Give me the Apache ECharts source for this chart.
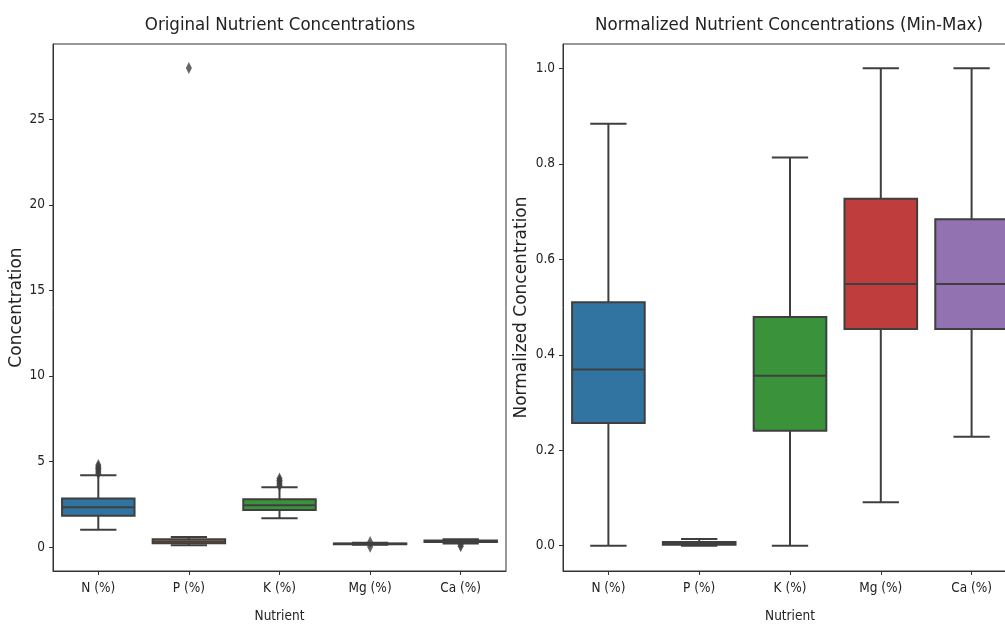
<!DOCTYPE html>
<html>
<head>
<meta charset="utf-8">
<script src="https://cdn.jsdelivr.net/npm/echarts@6/dist/echarts.min.js"></script>
<style>html,body{margin:0;padding:0;background:#fff;}#c{width:1005px;height:624px;}</style>
</head>
<body>
<div id="c"></div>
<script>
const categories = ['N (%)', 'P (%)', 'K (%)', 'Mg (%)', 'Ca (%)'];
// [min whisker, Q1, median, Q3, max whisker]
const origN = [1.01, 1.83, 2.32, 2.84, 4.20];
const origP = [0.10, 0.22, 0.33, 0.45, 0.58];
const origK = [1.68, 2.16, 2.44, 2.79, 3.50];
const origMg = [0.14, 0.17, 0.19, 0.21, 0.25];
const origCa = [0.20, 0.30, 0.35, 0.38, 0.45];
const origFliersN = [4.3, 4.4, 4.5, 4.6, 4.7, 4.8];
const origFliersP = [28.0];
const origFliersK = [3.6, 3.7, 3.8, 3.9, 4.0];
const origFliersMg = [0.02, 0.3];
const origFliersCa = [0.05, 0.15];
const normN = [0.000, 0.257, 0.369, 0.510, 0.884];
const normP = [0.000, 0.002, 0.005, 0.008, 0.014];
const normK = [0.000, 0.241, 0.356, 0.479, 0.813];
const normMg = [0.091, 0.454, 0.548, 0.727, 1.000];
const normCa = [0.228, 0.454, 0.548, 0.684, 1.000];
const leftTicks = [0, 5, 10, 15, 20, 25];
const rightTicks = [0, 0.2, 0.4, 0.6, 0.8, 1.0];

const colors = ['#3274a1', '#e1812c', '#3a923a', '#c03d3e', '#9372b2'];
const lineColor = '#3f3f3f';
const narrowFont = '"DejaVu Sans Condensed", "DejaVu Sans", sans-serif';
const wideFont = '"DejaVu Sans", sans-serif';

const origStats = [origN, origP, origK, origMg, origCa];
const normStats = [normN, normP, normK, normMg, normCa];
const origFliers = [origFliersN, origFliersP, origFliersK, origFliersMg, origFliersCa];

function boxData(stats) { return stats.map((s, i) => [i].concat(s)); }
function flierData(fl) {
  const out = [];
  fl.forEach((arr, i) => arr.forEach(v => out.push([i, v])));
  return out;
}

function renderBox(params, api) {
  const x = api.value(0);
  const lo = api.coord([x, api.value(1)]);
  const q1 = api.coord([x, api.value(2)]);
  const md = api.coord([x, api.value(3)]);
  const q3 = api.coord([x, api.value(4)]);
  const hi = api.coord([x, api.value(5)]);
  const band = api.size([1, 0])[0];
  const w = band * 0.8, cw = w / 2, cx = lo[0];
  const ls = { stroke: lineColor, lineWidth: 2 };
  return {
    type: 'group',
    children: [
      { type: 'line', shape: { x1: cx, y1: q3[1], x2: cx, y2: hi[1] }, style: ls },
      { type: 'line', shape: { x1: cx, y1: q1[1], x2: cx, y2: lo[1] }, style: ls },
      { type: 'line', shape: { x1: cx - cw / 2, y1: hi[1], x2: cx + cw / 2, y2: hi[1] }, style: ls },
      { type: 'line', shape: { x1: cx - cw / 2, y1: lo[1], x2: cx + cw / 2, y2: lo[1] }, style: ls },
      { type: 'rect', shape: { x: cx - w / 2, y: q3[1], width: w, height: q1[1] - q3[1] },
        style: { fill: colors[x], stroke: lineColor, lineWidth: 2 } },
      { type: 'line', shape: { x1: cx - w / 2, y1: md[1], x2: cx + w / 2, y2: md[1] }, style: ls }
    ]
  };
}

function xAxisOpt(gi) {
  return {
    type: 'category', gridIndex: gi, data: categories,
    name: 'Nutrient', nameLocation: 'middle', nameGap: 38,
    nameTextStyle: { fontFamily: narrowFont, fontSize: 13.5, color: '#222' },
    axisLine: { show: true, onZero: false, lineStyle: { color: '#333', width: 1 } },
    axisTick: { show: true, alignWithLabel: true, length: 4, lineStyle: { color: '#333' } },
    axisLabel: { fontFamily: narrowFont, fontSize: 13.5, color: '#222', margin: 10 },
    splitLine: { show: false }
  };
}
function yAxisOpt(gi, min, max, ticks, name, gap, fmt) {
  return {
    type: 'value', gridIndex: gi, min: min, max: max,
    name: name, nameLocation: 'middle', nameGap: gap,
    nameTextStyle: { fontFamily: wideFont, fontSize: 17, color: '#222' },
    axisLine: { show: true, onZero: false, lineStyle: { color: '#333', width: 1 } },
    axisTick: { show: true, length: 4, customValues: ticks, lineStyle: { color: '#333' } },
    axisLabel: { fontFamily: narrowFont, fontSize: 13.5, color: '#222', margin: 8, customValues: ticks, formatter: fmt },
    splitLine: { show: false }
  };
}

const chart = echarts.init(document.getElementById('c'), null, { renderer: 'canvas' });
chart.setOption({
  animation: false,
  backgroundColor: '#fff',
  title: [
    { text: 'Original Nutrient Concentrations', left: 275, top: 11, textAlign: 'center',
      textStyle: { fontFamily: narrowFont, fontSize: 18.5, fontWeight: 'normal', color: '#222' } },
    { text: 'Normalized Nutrient Concentrations (Min-Max)', left: 784, top: 11, textAlign: 'center',
      textStyle: { fontFamily: narrowFont, fontSize: 18.5, fontWeight: 'normal', color: '#222' } }
  ],
  grid: [
    { left: 53, top: 44, width: 453, height: 527, outerBoundsMode: 'none', containLabel: false,
      show: true, borderColor: '#333', borderWidth: 1, backgroundColor: 'transparent' },
    { left: 563, top: 44, width: 454, height: 527, outerBoundsMode: 'none', containLabel: false,
      show: true, borderColor: '#333', borderWidth: 1, backgroundColor: 'transparent' }
  ],
  xAxis: [xAxisOpt(0), xAxisOpt(1)],
  yAxis: [
    yAxisOpt(0, -1.4, 29.4, leftTicks, 'Concentration', 28, v => String(v)),
    yAxisOpt(1, -0.053, 1.051, rightTicks, 'Normalized Concentration', 33, v => v.toFixed(1))
  ],
  series: [
    { type: 'custom', xAxisIndex: 0, yAxisIndex: 0, renderItem: renderBox, data: boxData(origStats),
      encode: { x: 0, y: [1, 2, 3, 4, 5] } },
    { type: 'scatter', xAxisIndex: 0, yAxisIndex: 0, data: flierData(origFliers),
      symbol: 'diamond', symbolSize: [6, 12], itemStyle: { color: lineColor } },
    { type: 'custom', xAxisIndex: 1, yAxisIndex: 1, renderItem: renderBox, data: boxData(normStats),
      encode: { x: 0, y: [1, 2, 3, 4, 5] } }
  ]
});
</script>
</body>
</html>
